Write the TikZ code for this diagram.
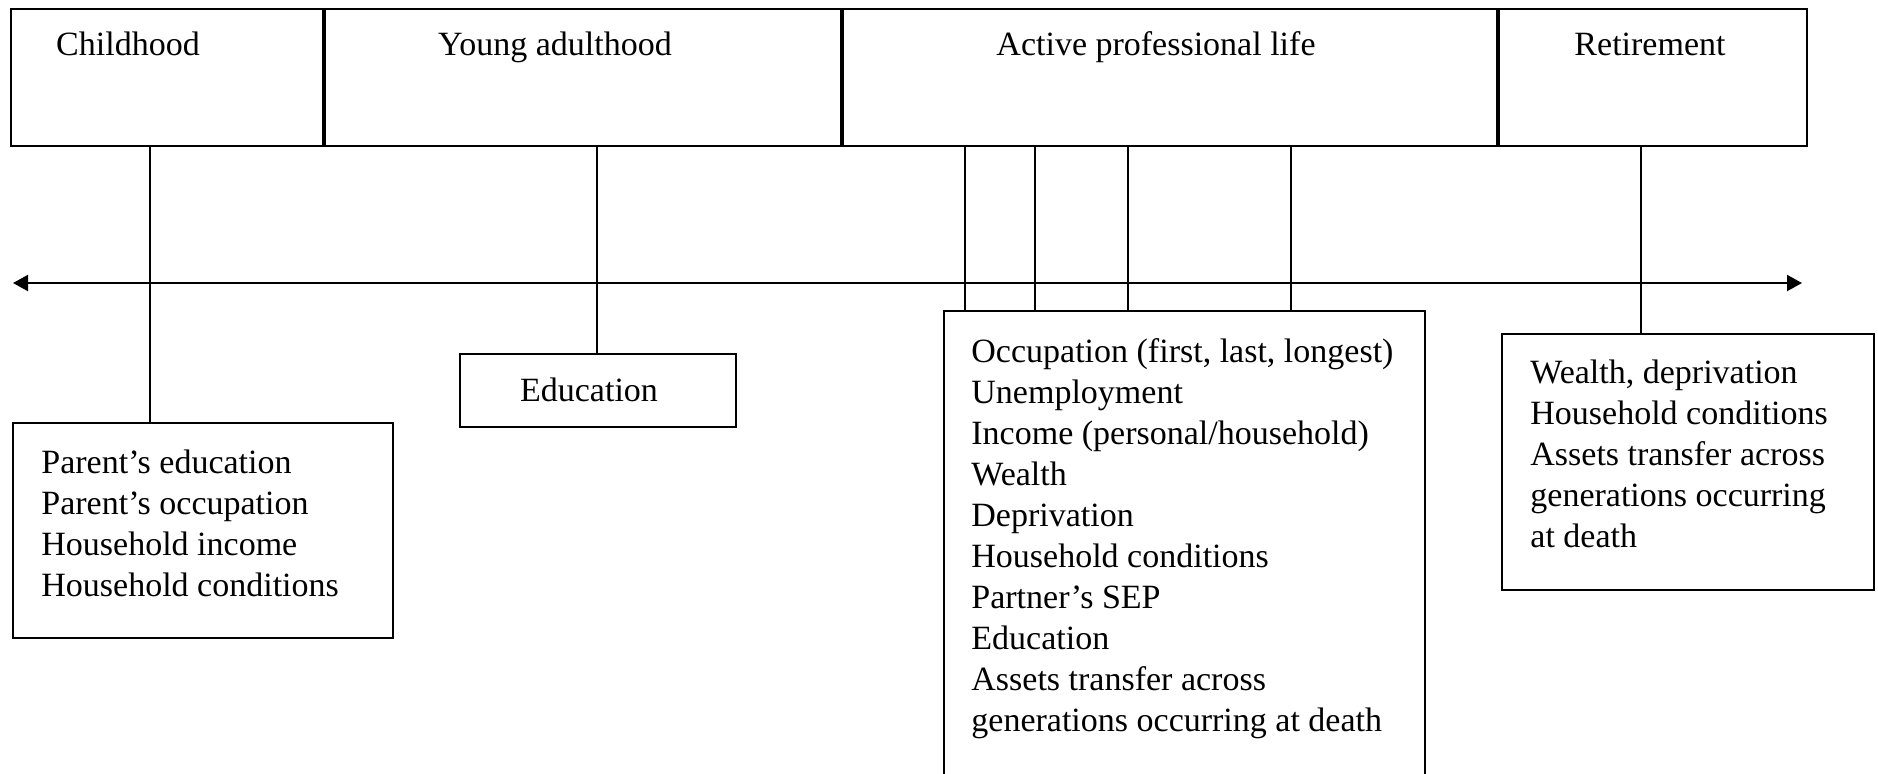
\documentclass[tikz,border=0pt]{standalone}
\usepackage{fontspec}
\setmainfont{Liberation Serif}
\usetikzlibrary{positioning}
\usetikzlibrary{arrows.meta}

\tikzset{
  stage/.style={draw, line width=1pt, inner sep=0pt, minimum height=68.5pt, anchor=west},
  box/.style={draw, line width=1pt, inner sep=0pt, anchor=north west},
  items/.style={align=left, inner sep=0pt, anchor=north west},
  link/.style={line width=1pt},
  timeline/.style={line width=1pt, {Triangle[length=7.5pt,width=8pt]}-{Triangle[length=7.5pt,width=8pt]}}
}

\begin{document}
\begin{tikzpicture}[x=0.5pt, y=-0.5pt, font=\fontsize{17}{20.5}\selectfont]
\useasboundingbox (0,0) rectangle (1878,773);
\node [stage, minimum width=156pt, anchor=north west] (child) at (10,8) {};
\node [stage, minimum width=258pt, right=0pt of child] (young) {};
\node [stage, minimum width=327pt, right=0pt of young] (active) {};
\node [stage, minimum width=154pt, right=0pt of active] (retire) {};
\node [anchor=base] (childlbl) at (128,55) {Childhood};
\node [anchor=base] (younglbl) at (555,55) {Young adulthood};
\node [anchor=base] (activelbl) at (1156,55) {Active professional life};
\node [anchor=base] (retirelbl) at (1650,55) {Retirement};
\coordinate (past) at (13,283);
\coordinate (future) at (1802,283);
\draw [timeline] (past) -- (future);
\node [box, minimum width=190pt, minimum height=107.5pt] (childbox) at (12,422) {};
\node [box, minimum width=138pt, minimum height=36.5pt] (educbox) at (459,353) {};
\node [box, minimum width=240.5pt, minimum height=250pt] (activebox) at (943,310) {};
\node [box, minimum width=186pt, minimum height=128pt] (retirebox) at (1501,333) {};
\node [items] (childitems) at (41,449) {Parent’s education\\Parent’s occupation\\Household income\\Household conditions};
\node [anchor=base] (educitem) at (589,401) {Education};
\node [items] (activeitems) at (971,338) {Occupation (first, last, longest)\\Unemployment\\Income (personal/household)\\Wealth\\Deprivation\\Household conditions\\Partner’s SEP\\Education\\Assets transfer across\\generations occurring at death};
\node [items] (retireitems) at (1530,359) {Wealth, deprivation\\Household conditions\\Assets transfer across\\generations occurring\\at death};
\draw [link] (150,0 |- child.south) -- (150,0 |- childbox.north);
\draw [link] (597,0 |- young.south) -- (597,0 |- educbox.north);
\foreach \x in {965,1035,1128,1291}
  \draw [link] (\x,0 |- active.south) -- (\x,0 |- activebox.north);
\draw [link] (1641,0 |- retire.south) -- (1641,0 |- retirebox.north);
\end{tikzpicture}
\end{document}
